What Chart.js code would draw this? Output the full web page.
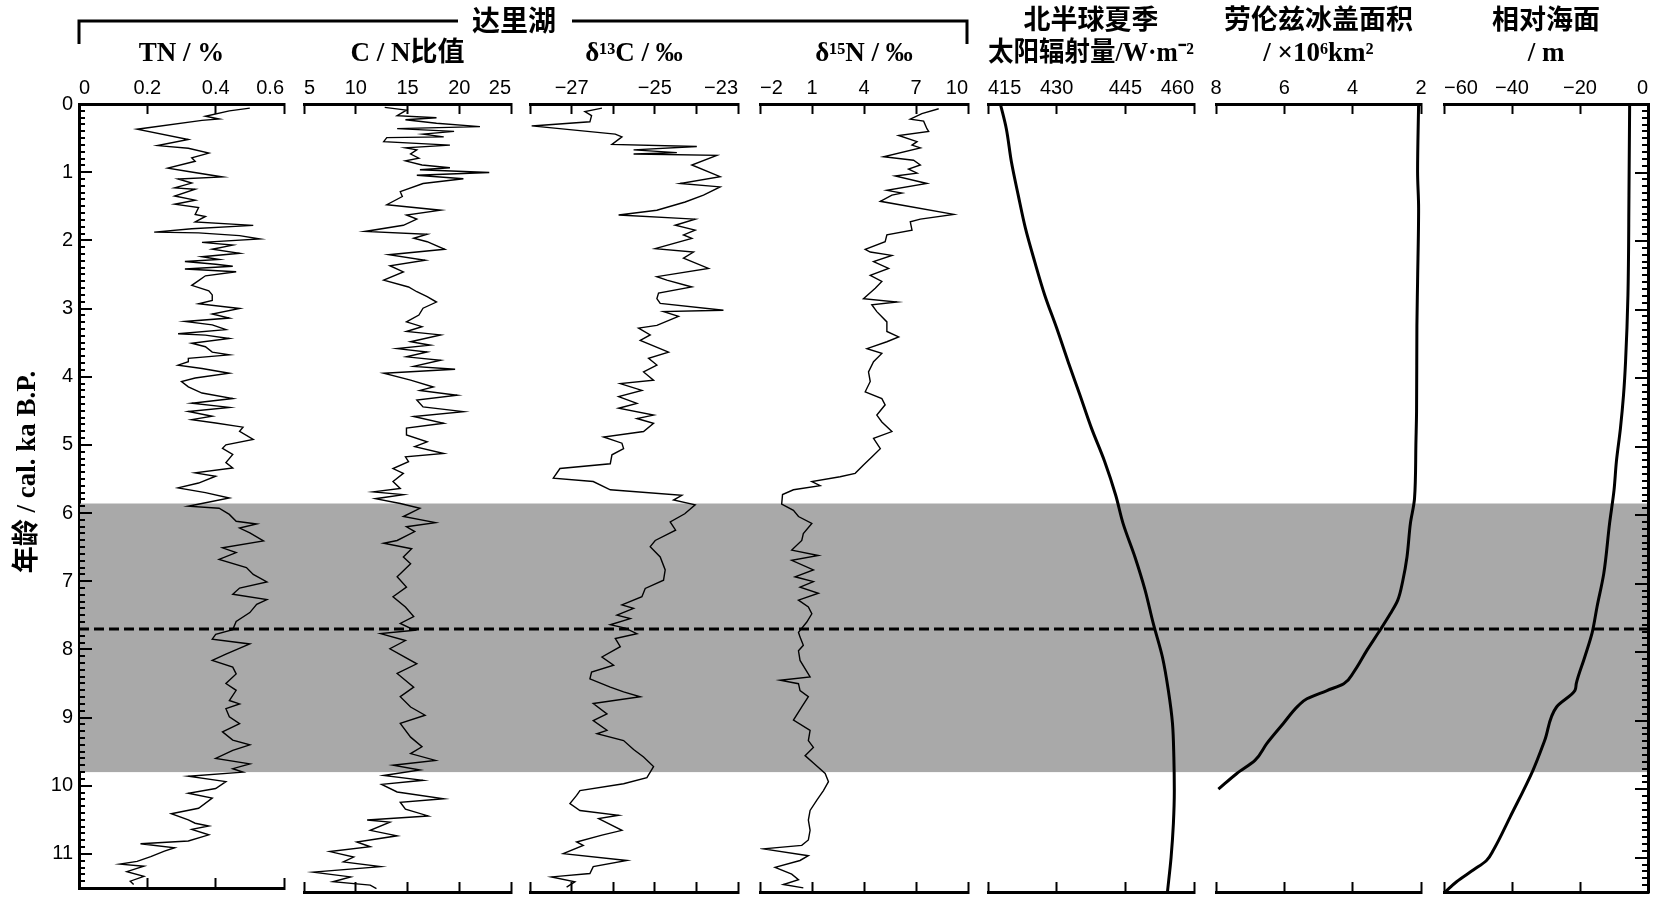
<!DOCTYPE html>
<html lang="zh">
<head>
<meta charset="utf-8">
<title>达里湖 全新世记录</title>
<script src="https://cdn.jsdelivr.net/npm/chart.js@4.4.1/dist/chart.umd.min.js"></script>
<style>
  html, body { margin: 0; background: #fff; }
  #wrap { position: relative; width: 1672px; height: 906px; }
  #wrap canvas { position: absolute; left: 0; top: 0; }
</style>
</head>
<body>
<div id="wrap"></div>
<script>
// ---- data (age in cal. ka B.P.) ----
const tnAge = [0.06,0.10,0.18,0.22,0.24,0.37,0.52,0.61,0.65,0.72,0.79,0.84,0.94,0.99,1.07,1.10,1.16,1.23,1.25,1.35,1.41,1.47,1.52,1.62,1.65,1.73,1.78,1.83,1.88,1.89,1.93,1.98,2.03,2.07,2.13,2.19,2.24,2.28,2.31,2.35,2.38,2.42,2.46,2.52,2.59,2.66,2.74,2.80,2.88,2.93,3.00,3.08,3.14,3.19,3.24,3.31,3.37,3.39,3.44,3.51,3.56,3.64,3.68,3.73,3.78,3.83,3.88,3.95,4.02,4.07,4.15,4.24,4.32,4.39,4.45,4.51,4.58,4.63,4.68,4.74,4.80,4.92,5.00,5.05,5.14,5.26,5.34,5.41,5.46,5.56,5.63,5.70,5.78,5.90,5.93,6.02,6.12,6.16,6.22,6.29,6.41,6.51,6.58,6.68,6.80,6.90,7.01,7.10,7.19,7.27,7.34,7.46,7.59,7.71,7.78,7.85,7.92,8.07,8.16,8.26,8.36,8.50,8.60,8.75,8.80,8.87,8.99,9.09,9.21,9.33,9.40,9.48,9.60,9.68,9.75,9.80,9.86,9.94,10.04,10.11,10.18,10.33,10.41,10.50,10.55,10.59,10.64,10.72,10.81,10.85,10.91,10.96,11.04,11.11,11.15,11.18,11.26,11.33,11.40,11.45];
const tnValue = [0.50,0.44,0.37,0.41,0.36,0.17,0.32,0.23,0.32,0.38,0.33,0.34,0.26,0.32,0.42,0.29,0.33,0.28,0.34,0.28,0.34,0.28,0.35,0.34,0.37,0.34,0.51,0.33,0.22,0.35,0.47,0.53,0.36,0.45,0.39,0.47,0.36,0.41,0.31,0.40,0.45,0.31,0.46,0.37,0.35,0.33,0.38,0.39,0.39,0.35,0.47,0.39,0.44,0.31,0.39,0.43,0.29,0.37,0.44,0.33,0.37,0.39,0.44,0.32,0.32,0.29,0.36,0.44,0.34,0.30,0.32,0.36,0.45,0.33,0.44,0.32,0.39,0.33,0.40,0.48,0.47,0.51,0.43,0.42,0.45,0.43,0.45,0.34,0.40,0.35,0.29,0.37,0.44,0.32,0.41,0.44,0.46,0.52,0.47,0.50,0.54,0.42,0.46,0.41,0.49,0.51,0.55,0.47,0.45,0.55,0.52,0.50,0.46,0.45,0.40,0.39,0.50,0.43,0.39,0.45,0.46,0.43,0.46,0.44,0.47,0.43,0.44,0.47,0.42,0.45,0.50,0.45,0.40,0.50,0.45,0.48,0.32,0.43,0.40,0.32,0.39,0.35,0.27,0.32,0.34,0.38,0.33,0.38,0.32,0.18,0.28,0.25,0.21,0.17,0.12,0.19,0.14,0.19,0.15,0.16];

const cnAge = [0.05,0.09,0.17,0.20,0.23,0.28,0.33,0.36,0.40,0.44,0.48,0.49,0.55,0.60,0.64,0.67,0.73,0.79,0.83,0.89,0.93,0.96,1.00,1.04,1.09,1.16,1.28,1.35,1.47,1.55,1.62,1.68,1.77,1.86,1.90,1.96,2.01,2.12,2.20,2.28,2.36,2.45,2.57,2.67,2.74,2.81,2.89,2.98,3.08,3.18,3.25,3.32,3.37,3.47,3.52,3.57,3.62,3.69,3.74,3.83,3.87,3.93,4.03,4.13,4.18,4.25,4.32,4.42,4.49,4.56,4.66,4.73,4.83,4.93,5.00,5.10,5.15,5.22,5.32,5.39,5.51,5.61,5.66,5.70,5.76,5.83,5.90,6.02,6.11,6.17,6.24,6.37,6.41,6.49,6.61,6.71,6.90,7.05,7.19,7.34,7.48,7.58,7.68,7.73,7.83,7.95,8.17,8.31,8.51,8.65,8.80,8.92,9.04,9.24,9.38,9.48,9.58,9.65,9.72,9.80,9.87,9.93,10.04,10.14,10.19,10.29,10.39,10.45,10.48,10.60,10.68,10.77,10.84,10.91,10.99,11.06,11.13,11.21,11.28,11.35,11.40,11.45];
const cnValue = [12.8,14.9,14.0,17.8,14.8,17.8,22.0,14.0,19.5,16.5,18.5,13.0,12.7,19.1,14.8,15.9,15.3,16.1,14.8,16.4,19.1,16.2,22.9,15.9,20.4,16.5,14.3,14.5,13.0,18.2,14.9,15.9,14.6,10.9,16.9,15.6,16.9,18.6,13.2,16.7,13.3,14.6,12.7,15.1,15.9,16.9,17.8,16.5,16.1,14.9,16.4,14.9,18.2,15.3,17.2,14.0,16.9,14.9,18.2,15.6,19.6,12.7,15.3,17.5,16.2,19.8,15.9,16.5,20.4,15.6,18.5,14.9,14.9,16.9,15.7,18.5,14.8,15.1,13.6,14.6,13.6,14.3,11.7,14.6,11.9,14.3,16.2,14.6,17.7,14.9,15.7,14.0,12.7,15.4,14.6,15.3,14.0,14.9,13.6,14.8,15.6,14.3,15.7,12.4,14.8,13.3,15.9,14.0,15.6,14.3,15.3,16.7,14.3,15.3,16.4,15.3,17.7,13.6,16.2,12.7,16.5,12.5,14.0,18.5,14.3,14.8,17.0,11.1,13.3,11.4,14.0,10.1,11.4,7.5,9.8,8.8,12.4,5.9,9.5,7.8,11.4,12.0];

const c13Age = [0.06,0.11,0.17,0.26,0.32,0.44,0.48,0.59,0.62,0.67,0.71,0.73,0.75,0.89,1.06,1.16,1.21,1.33,1.43,1.55,1.62,1.68,1.77,1.84,1.91,1.96,2.11,2.16,2.25,2.40,2.52,2.57,2.67,2.76,2.84,2.91,3.01,3.03,3.10,3.23,3.27,3.37,3.45,3.62,3.71,3.81,3.91,4.03,4.08,4.18,4.27,4.37,4.44,4.54,4.59,4.66,4.78,4.86,4.95,5.03,5.12,5.25,5.32,5.46,5.51,5.63,5.71,5.78,5.85,5.98,6.10,6.22,6.37,6.46,6.61,6.80,6.95,7.07,7.19,7.31,7.36,7.46,7.51,7.60,7.65,7.73,7.80,7.92,8.07,8.19,8.29,8.39,8.51,8.58,8.65,8.75,8.90,9.00,9.14,9.19,9.29,9.42,9.53,9.67,9.83,9.92,10.02,10.09,10.21,10.31,10.38,10.43,10.60,10.67,10.77,10.82,10.94,11.04,11.13,11.23,11.28,11.35,11.43];
const c13Value = [-26.27,-26.68,-26.52,-26.56,-27.96,-25.95,-25.79,-26.03,-23.99,-25.51,-24.47,-25.51,-23.51,-24.11,-23.43,-24.39,-23.43,-23.83,-24.27,-24.95,-25.87,-24.03,-24.51,-24.03,-24.31,-24.11,-24.99,-24.07,-24.31,-23.71,-24.95,-24.71,-24.11,-24.91,-24.95,-24.87,-23.35,-24.79,-24.43,-24.95,-25.39,-25.11,-25.35,-24.67,-25.15,-24.95,-25.27,-25.03,-25.83,-25.31,-25.87,-25.43,-25.87,-25.03,-25.43,-25.03,-25.27,-26.23,-25.79,-25.75,-26.03,-26.07,-27.28,-27.44,-26.48,-26.07,-24.35,-24.55,-24.03,-24.28,-24.63,-24.50,-24.99,-25.11,-24.87,-24.75,-24.79,-25.23,-25.31,-25.79,-25.51,-25.91,-25.59,-26.07,-25.71,-25.43,-25.95,-25.83,-26.27,-25.99,-26.52,-26.56,-26.07,-25.75,-25.35,-26.48,-26.15,-26.48,-26.15,-26.39,-25.75,-25.51,-25.27,-25.03,-25.19,-25.75,-26.80,-26.88,-27.04,-26.80,-25.87,-26.35,-25.79,-26.27,-26.88,-26.72,-27.20,-25.67,-26.48,-26.56,-27.48,-26.92,-27.12];

const n15Age = [0.07,0.14,0.22,0.25,0.36,0.40,0.46,0.55,0.60,0.64,0.77,0.82,0.89,0.95,1.01,1.05,1.16,1.26,1.30,1.33,1.42,1.61,1.68,1.72,1.84,1.91,2.01,2.12,2.16,2.21,2.30,2.40,2.50,2.59,2.69,2.84,2.89,2.93,3.03,3.18,3.32,3.40,3.47,3.57,3.64,3.76,3.91,4.05,4.20,4.30,4.39,4.54,4.64,4.78,4.88,5.03,5.15,5.27,5.39,5.44,5.51,5.57,5.63,5.70,5.84,5.93,6.02,6.12,6.27,6.37,6.51,6.59,6.66,6.80,6.90,6.97,7.05,7.14,7.24,7.34,7.44,7.56,7.71,7.78,7.90,7.98,8.12,8.36,8.41,8.46,8.56,8.65,8.80,8.99,9.14,9.29,9.39,9.51,9.64,9.77,9.89,10.02,10.16,10.31,10.45,10.60,10.74,10.82,10.87,10.97,11.04,11.14,11.24,11.32,11.39,11.44];
const n15Value = [8.31,7.34,6.67,7.44,7.63,7.73,6.00,7.06,6.77,7.25,5.13,6.86,7.25,6.57,7.06,5.80,7.63,5.32,6.19,5.61,4.94,9.18,7.25,6.67,6.77,5.32,5.22,4.07,4.36,5.61,4.55,5.42,4.36,5.03,4.65,3.97,5.90,4.45,4.74,5.32,5.32,6.00,5.32,4.17,5.03,4.55,4.26,4.36,4.07,5.03,5.22,4.74,5.03,5.61,4.55,4.94,4.45,3.97,3.49,2.62,0.99,1.47,-0.07,-0.70,-0.75,-0.07,0.22,0.99,0.50,0.41,-0.17,1.37,-0.17,1.08,0.02,1.08,0.31,1.37,0.22,0.79,0.99,0.70,0.22,0.31,0.50,0.22,0.31,0.89,-0.84,0.22,0.31,0.79,0.41,-0.07,0.89,0.79,1.08,0.60,1.18,1.76,1.95,1.66,1.28,0.89,0.79,0.89,0.79,0.41,-1.81,0.79,0.31,-1.13,-0.17,0.22,-0.65,0.50];

const insolAge = [0.00,0.36,0.84,1.33,1.82,2.30,2.79,3.27,3.76,4.25,4.73,5.22,5.71,6.12,6.61,7.09,7.58,8.07,8.56,9.04,9.53,10.02,10.50,10.99,11.50];
const insolValue = [417.7,419.0,420.1,421.6,423.2,425.2,427.4,430.0,432.5,435.1,437.6,440.5,442.9,444.5,447.1,449.3,451.1,453.1,454.4,455.3,455.6,455.7,455.5,455.0,454.2];

const iceAge = [0.00,0.99,1.52,2.59,3.23,4.49,4.98,5.76,6.12,6.61,6.95,7.24,7.44,7.71,7.97,8.29,8.46,8.56,8.68,8.78,9.04,9.33,9.58,9.77,10.00];
const iceValue = [2.07,2.10,2.07,2.10,2.12,2.13,2.15,2.19,2.31,2.41,2.53,2.68,2.90,3.24,3.58,3.97,4.26,4.75,5.34,5.59,6.03,6.51,6.86,7.39,7.93];

const seaAge = [0.00,1.33,2.79,3.76,4.25,4.73,5.22,5.64,6.12,6.85,7.34,7.71,8.07,8.46,8.56,8.80,9.29,9.72,10.41,10.89,11.04,11.18,11.35,11.50];
const seaValue = [-5.4,-5.6,-5.9,-6.6,-7.2,-8.1,-9.3,-10.0,-11.3,-13.0,-15.0,-16.4,-18.6,-21.1,-21.5,-26.9,-30.4,-33.8,-40.6,-45.5,-47.5,-51.4,-56.3,-59.7];

const warmWetStart = 5.86;   // grey band
const warmWetEnd = 9.80;
const markerAge = 7.7;       // dashed line
const yTickLabels = [0,1,2,3,4,5,6,7,8,9,10,11];
const c13Labels = [-27,-25,-23];

// ---- layout ----
const W = 1672, H = 906;
const PLOT_TOP = 104, PLOT_BOTTOM = 892;
const Y_AXIS_X = 79, SEA_RIGHT = 1648;
const TITLE_FONT = '"Liberation Serif", "Noto Sans CJK SC", serif';

Chart.defaults.font.family = '"Liberation Sans", Arial, sans-serif';
Chart.defaults.color = '#000';

const minus = v => (v < 0 ? '\u2212' + Math.abs(v) : String(v));

const panels = [
  { left: 79, right: 284, title: 'TN / %', min: 0, max: 0.6, step: 0.2,
    ages: tnAge, values: tnValue, lw: 1.4, fmt: v => (v === 0 ? '0' : v.toFixed(1)) },
  { left: 304, right: 511, title: 'C / N比值', min: 5, max: 25, step: 5,
    ages: cnAge, values: cnValue, lw: 1.4, fmt: v => String(v) },
  { left: 530, right: 738, title: 'δ¹³C / ‰', min: -28, max: -23, step: 1,
    ages: c13Age, values: c13Value, lw: 1.4, fmt: v => (c13Labels.includes(v) ? minus(v) : '') },
  { left: 760, right: 968, title: 'δ¹⁵N / ‰', min: -2, max: 10, step: 3,
    ages: n15Age, values: n15Value, lw: 1.4, fmt: minus },
  { left: 988, right: 1194, title: ['北半球夏季', '太阳辐射量/W·m⁻²'], min: 415, max: 460, step: 15,
    ages: insolAge, values: insolValue, lw: 3, smooth: true, fmt: v => String(v) },
  { left: 1216, right: 1421, title: ['劳伦兹冰盖面积', '/ ×10⁶km²'], min: 2, max: 8, step: 2, reverse: true,
    ages: iceAge, values: iceValue, lw: 3, smooth: true, align: 'center', fmt: v => String(v) },
  { left: 1444, right: 1648, title: ['相对海面', '/ m'], min: -60, max: 0, step: 20,
    ages: seaAge, values: seaValue, lw: 3, smooth: true, fmt: minus },
];

// inward minor/major ticks on the age axis
const ageTicks = {
  id: 'ageTicks',
  afterDatasetsDraw(chart, args, opts) {
    if (!opts.side) return;
    const {ctx, chartArea} = chart;
    const y = chart.scales.y;
    const x0 = opts.side === 'left' ? chartArea.left : chartArea.right;
    const dir = opts.side === 'left' ? 1 : -1;
    ctx.save();
    ctx.strokeStyle = '#000';
    ctx.lineWidth = 2;
    for (let i = 0; i <= 115; i++) {
      const py = Math.round(y.getPixelForValue(i / 10));
      const len = i % 10 === 0 ? 13 : 6;
      ctx.beginPath();
      ctx.moveTo(x0, py);
      ctx.lineTo(x0 + dir * len, py);
      ctx.stroke();
    }
    ctx.restore();
  }
};

// grey interval, dashed marker, header bracket and age title (first panel only)
const decor = {
  id: 'decor',
  beforeDatasetsDraw(chart, args, opts) {
    if (!opts.show) return;
    const {ctx} = chart;
    const y = chart.scales.y;
    const top = y.getPixelForValue(warmWetStart);
    const bottom = y.getPixelForValue(warmWetEnd);
    ctx.save();
    ctx.fillStyle = '#a9a9a9';
    ctx.fillRect(Y_AXIS_X + 1, top, SEA_RIGHT - Y_AXIS_X - 2, bottom - top);
    ctx.restore();
  },
  afterDatasetsDraw(chart, args, opts) {
    if (!opts.show) return;
    const {ctx} = chart;
    const py = chart.scales.y.getPixelForValue(markerAge);
    ctx.save();
    ctx.strokeStyle = '#000';
    ctx.lineWidth = 3;
    ctx.setLineDash([10, 5]);
    ctx.beginPath();
    ctx.moveTo(Y_AXIS_X, py);
    ctx.lineTo(SEA_RIGHT, py);
    ctx.stroke();
    ctx.restore();
  },
  afterDraw(chart, args, opts) {
    if (!opts.show) return;
    const {ctx} = chart;
    ctx.save();
    ctx.strokeStyle = '#000';
    ctx.lineWidth = 3;
    ctx.beginPath();
    ctx.moveTo(Y_AXIS_X, 44); ctx.lineTo(Y_AXIS_X, 21); ctx.lineTo(458, 21);
    ctx.moveTo(572, 21); ctx.lineTo(967, 21); ctx.lineTo(967, 44);
    ctx.stroke();
    ctx.fillStyle = '#000';
    ctx.textAlign = 'center';
    ctx.textBaseline = 'middle';
    ctx.font = 'bold 28px ' + TITLE_FONT;
    ctx.fillText('达里湖', 514, 24);
    ctx.translate(28, 472);
    ctx.rotate(-Math.PI / 2);
    ctx.font = 'bold 27px ' + TITLE_FONT;
    ctx.fillText('年龄 / cal. ka B.P.', 0, 0);
    ctx.restore();
  }
};

function xAxis(p, position) {
  return {
    type: 'linear',
    position,
    min: p.min,
    max: p.max,
    reverse: !!p.reverse,
    border: { display: true, color: '#000', width: 3 },
    grid: { display: true, drawOnChartArea: false, drawTicks: true, tickLength: -10, tickWidth: 2, tickColor: '#000' },
  };
}

const wrap = document.getElementById('wrap');

panels.forEach((p, i) => {
  const canvas = document.createElement('canvas');
  canvas.width = W;
  canvas.height = H;
  wrap.appendChild(canvas);

  const first = i === 0;
  const last = i === panels.length - 1;
  const twoLine = Array.isArray(p.title);

  const top = xAxis(p, 'top');
  top.ticks = { stepSize: p.step, autoSkip: false, align: p.align || 'inner', padding: 14, maxRotation: 0,
                font: { size: 20 }, callback: p.fmt };
  top.title = {
    display: true,
    text: p.title,
    color: '#000',
    font: { family: TITLE_FONT, size: 27, weight: 'bold', lineHeight: 32 / 27 },
    padding: { top: twoLine ? 6 : 38, bottom: 0 },
  };
  top.afterFit = s => { s.height = PLOT_TOP; };

  const bottom = xAxis(p, 'bottom');
  bottom.ticks = { display: false, stepSize: p.step, autoSkip: false };
  bottom.afterFit = s => { s.height = 0; };

  const y = {
    type: 'linear',
    min: 0,
    max: 11.5,
    reverse: true,
    display: first || last,
    position: last ? 'right' : 'left',
    border: { display: true, color: '#000', width: 3 },
    grid: { display: false, drawTicks: false },
    ticks: {
      display: first,
      stepSize: 1,
      autoSkip: false,
      padding: 6,
      font: { size: 20 },
      callback: v => (yTickLabels.includes(v) ? String(v) : ''),
    },
    afterFit: s => { s.width = first ? Y_AXIS_X : 0; },
  };

  new Chart(canvas, {
    type: 'line',
    data: {
      datasets: [{
        data: p.ages.map((a, k) => ({ x: p.values[k], y: a })),
        borderColor: '#000',
        borderWidth: p.lw,
        pointRadius: 0,
        tension: p.smooth ? 0.4 : 0,
        cubicInterpolationMode: p.smooth ? 'monotone' : 'default',
      }],
    },
    options: {
      responsive: false,
      animation: false,
      indexAxis: 'y',
      layout: { padding: { left: first ? 0 : p.left, right: W - p.right, top: 0, bottom: H - PLOT_BOTTOM } },
      plugins: {
        legend: { display: false },
        tooltip: { enabled: false },
        ageTicks: { side: first ? 'left' : last ? 'right' : null },
        decor: { show: first },
      },
      scales: { x: top, xb: bottom, y },
    },
    plugins: [ageTicks, decor],
  });
});
</script>
</body>
</html>
